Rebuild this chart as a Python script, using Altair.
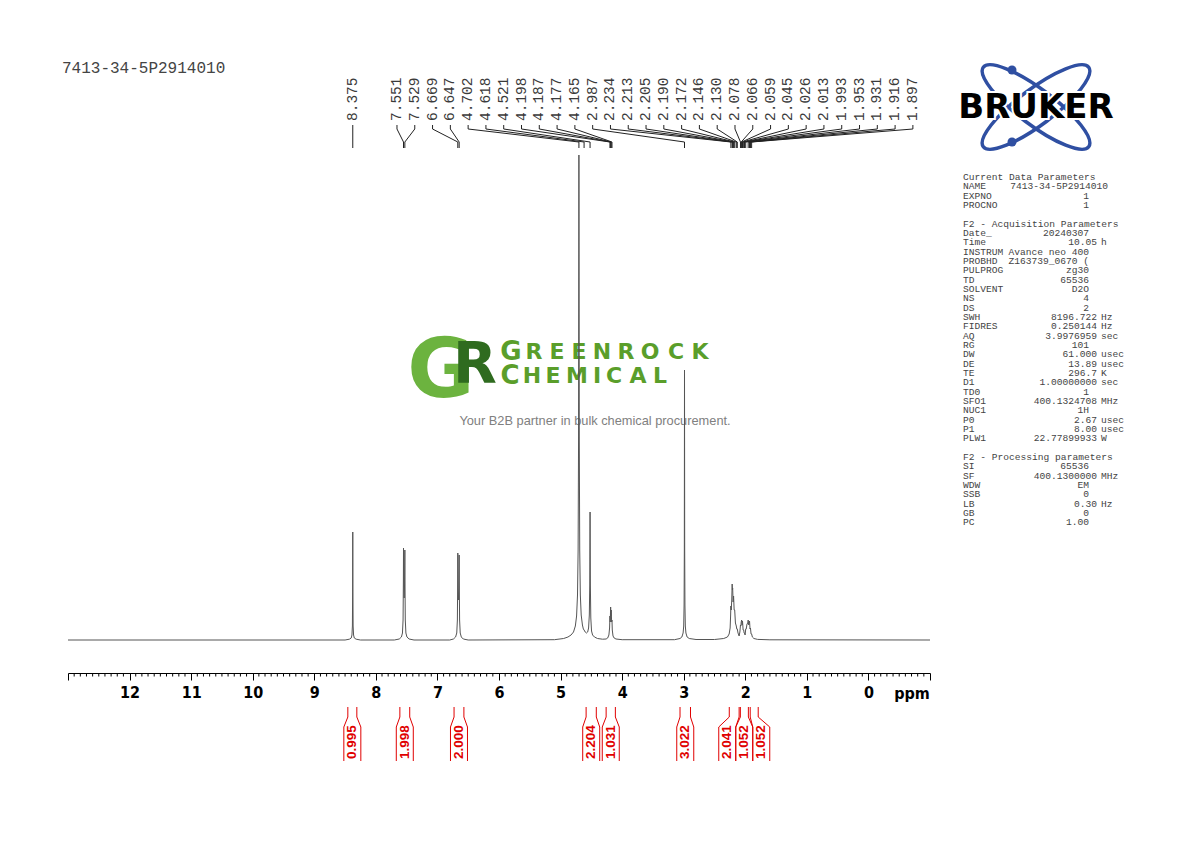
import altair as alt
import pandas as pd

# ---------------- data ----------------
TITLE = "7413-34-5P2914010"

# spectrum trace: chemical shift (ppm) and intensity (arbitrary units, HDO top = 485)
trace_ppm = [13.0, 8.50, 8.43, 8.40, 8.388, 8.381, 8.377, 8.375, 8.373, 8.369, 8.362, 8.35, 8.32, 8.25,
             7.70, 7.62, 7.585, 7.568, 7.558, 7.553, 7.551, 7.546, 7.540, 7.534, 7.529, 7.527, 7.522, 7.512, 7.495, 7.46, 7.38,
             6.80, 6.74, 6.705, 6.686, 6.676, 6.671, 6.669, 6.664, 6.658, 6.652, 6.647, 6.645, 6.640, 6.630, 6.612, 6.58, 6.50,
             5.10, 4.95, 4.88, 4.83, 4.79, 4.76, 4.74, 4.725, 4.715, 4.708, 4.702, 4.696, 4.689, 4.679, 4.665, 4.645, 4.630,
             4.618, 4.600, 4.580, 4.560, 4.545, 4.533, 4.526, 4.521, 4.516, 4.509, 4.497, 4.48, 4.45, 4.40, 4.32, 4.26,
             4.235, 4.215, 4.204, 4.198, 4.193, 4.187, 4.182, 4.177, 4.171, 4.165, 4.160, 4.148, 4.13, 4.10, 4.0,
             3.15, 3.06, 3.03, 3.01, 3.0, 2.994, 2.990, 2.987, 2.984, 2.980, 2.974, 2.964, 2.945, 2.91, 2.80, 2.50,
             2.35, 2.29, 2.262, 2.246, 2.238, 2.234, 2.228, 2.220, 2.213, 2.209, 2.205, 2.198, 2.190, 2.181, 2.172, 2.160,
             2.146, 2.138, 2.130, 2.118, 2.100, 2.088, 2.078, 2.072, 2.066, 2.059, 2.052, 2.045, 2.035, 2.026, 2.019, 2.013,
             2.003, 1.993, 1.985, 1.972, 1.960, 1.953, 1.944, 1.931, 1.923, 1.916, 1.906, 1.897, 1.885, 1.86, 1.80, 1.60, -1.0]
trace_int = [0, 0, 0.8, 2, 5, 14, 50, 108, 50, 14, 5, 2, 0.8, 0,
             0, 1, 3, 7, 20, 60, 92, 55, 42, 55, 90, 60, 20, 7, 3, 1, 0,
             0, 1, 3, 7, 20, 60, 87, 52, 40, 52, 85, 58, 20, 7, 3, 1, 0,
             0.3, 1.5, 3, 5, 8, 14, 24, 45, 90, 200, 485, 200, 90, 45, 25, 15, 11,
             10, 8, 7, 8, 12, 25, 55, 128, 55, 22, 9, 5, 3, 1.5, 0.8, 1,
             2, 5, 12, 24, 18, 33, 24, 30, 18, 20, 10, 4, 2, 1, 0.3,
             0.3, 1.5, 3, 7, 14, 35, 90, 270, 90, 35, 14, 7, 3, 1.5, 0.5, 0.5,
             1.5, 3, 6, 12, 25, 34, 30, 40, 56, 50, 52, 38, 44, 30, 30, 17,
             14, 11, 11, 7, 4, 8, 15, 14, 18, 20, 15, 19, 10, 10, 7, 7,
             5, 11, 11, 16, 17, 20, 15, 19, 11, 12, 6, 6, 3, 1.5, 0.6, 0.2, 0]

peak_labels = ["8.375", "7.551", "7.529", "6.669", "6.647", "4.702", "4.618", "4.521", "4.198", "4.187",
               "4.177", "4.165", "2.987", "2.234", "2.213", "2.205", "2.190", "2.172", "2.146", "2.130",
               "2.078", "2.066", "2.059", "2.045", "2.026", "2.013", "1.993", "1.953", "1.931", "1.916", "1.897"]

integral_values = ["0.995", "1.998", "2.000", "2.204", "1.031", "3.022", "2.041", "1.052", "1.052"]
integral_from = [8.455, 7.61, 6.73, 4.585, 4.26, 3.06, 2.26, 2.08, 1.92]
integral_to = [8.309, 7.45, 6.57, 4.42, 4.11, 2.89, 2.10, 1.95, 1.79]

param_headers = ["Current Data Parameters", "F2 - Acquisition Parameters", "F2 - Processing parameters"]
param_keys = ["NAME", "EXPNO", "PROCNO",
              "Date_", "Time", "INSTRUM", "PROBHD", "PULPROG", "TD", "SOLVENT", "NS", "DS", "SWH", "FIDRES",
              "AQ", "RG", "DW", "DE", "TE", "D1", "TD0", "SFO1", "NUC1", "P0", "P1", "PLW1",
              "SI", "SF", "WDW", "SSB", "LB", "GB", "PC"]
param_values = ["7413-34-5P2914010", "1", "1",
                "20240307", "10.05", "Avance neo 400", "Z163739_0670 (", "zg30", "65536", "D2O", "4", "2",
                "8196.722", "0.250144", "3.9976959", "101", "61.000", "13.89", "296.7", "1.00000000", "1",
                "400.1324708", "1H", "2.67", "8.00", "22.77899933",
                "65536", "400.1300000", "EM", "0", "0.30", "0", "1.00"]
param_units = ["", "", "",
               "", "h", "", "", "", "", "", "", "", "Hz", "Hz", "sec", "", "usec", "usec", "K", "sec", "",
               "MHz", "", "usec", "usec", "W",
               "", "MHz", "", "", "Hz", "", ""]

logo_top_word = "GREENROCK"
logo_bottom_word = "CHEMICAL"
logo_tagline = "Your B2B partner in bulk chemical procurement."
BRUKER = "BRUKER"

# ---------------- layout ----------------
W, H = 862, 518
X0_ABS, Y0_ABS = 68, 155            # plot origin on the page
PPX = W / 14.0                       # px per ppm
XS = alt.Scale(domain=[13, -1], nice=False, zero=False)
YS = alt.Scale(domain=[-33, 485], nice=False, zero=False)
NARROW = "Liberation Sans Narrow, DejaVu Sans Condensed, sans-serif"
MONO = "Liberation Mono, DejaVu Sans Mono, monospace"
RED = "#e00000"

XA = alt.Axis(values=list(range(-1, 14)),
              labelExpr="(datum.value > 12.5 || datum.value < -0.5) ? '' : datum.label",
              format="d", tickSize=7, tickColor="black", tickWidth=1, domainColor="black", domainWidth=1,
              labelFont=NARROW, labelFontWeight="bold", labelFontSize=16, labelColor="black",
              labelPadding=4, title=None, grid=False, labelFlush=False, labelOverlap=False)


def X(field):
    return alt.X(field, type="quantitative", scale=XS, axis=XA)


def spread(centers, gap):
    groups = [[c] for c in centers]

    def place(g):
        m = sum(g) / len(g)
        n = len(g)
        return [m + (n - 1) / 2 * gap - i * gap for i in range(n)]

    merged = True
    while merged:
        merged = False
        for k in range(len(groups) - 1):
            a, b = place(groups[k]), place(groups[k + 1])
            if a[-1] - b[0] < gap - 1e-9:
                groups[k] = groups[k] + groups[k + 1]
                del groups[k + 1]
                merged = True
                break
    out = []
    for g in groups:
        out += place(g)
    return out


# spectrum
spec_df = pd.DataFrame({"ppm": trace_ppm, "I": trace_int})
spectrum = alt.Chart(spec_df).mark_line(color="#555555", strokeWidth=1, interpolate="linear").encode(
    x=X("ppm"), y=alt.Y("I:Q", scale=YS, axis=None))

# minor ticks
minor = [round(-1 + 0.1 * i, 1) for i in range(141) if i % 10 != 0]
minor_df = pd.DataFrame({"t": minor})
minor_ticks = alt.Chart(minor_df).mark_rule(color="black", strokeWidth=1).encode(
    x=X("t"), y=alt.value(H), y2=alt.value(H + 3.5))

# ppm unit label
ppm_lbl = alt.Chart(pd.DataFrame({"s": ["ppm"]})).mark_text(
    font=NARROW, fontWeight="bold", fontSize=16, color="black", align="center", baseline="alphabetic").encode(
    x=alt.value(912 - X0_ABS), y=alt.value(699 - Y0_ABS), text="s:N")

# peak labels
peak_ppm = [float(s) for s in peak_labels]
slot_start, slot_step = 7.657, 17.79 / PPX
label_pos = [peak_ppm[0]] + [slot_start - i * slot_step for i in range(len(peak_ppm) - 1)]
lab_df = pd.DataFrame({"label": peak_labels, "lx": label_pos, "px": peak_ppm})
LC = "#222222"
lab_v1 = alt.Chart(lab_df).mark_rule(color=LC, strokeWidth=1).encode(
    x=X("lx"), y=alt.value(125 - Y0_ABS), y2=alt.value(129 - Y0_ABS))
lab_d = alt.Chart(lab_df).mark_rule(color=LC, strokeWidth=1).encode(
    x=X("lx"), x2="px:Q", y=alt.value(129 - Y0_ABS), y2=alt.value(142 - Y0_ABS))
lab_v2 = alt.Chart(lab_df).mark_rule(color=LC, strokeWidth=1).encode(
    x=X("px"), y=alt.value(142 - Y0_ABS), y2=alt.value(148 - Y0_ABS))
lab_txt = alt.Chart(lab_df).mark_text(angle=270, align="left", baseline="middle", font=MONO,
                                      fontSize=14.5, color="#3a3a3a").encode(
    x=X("lx"), y=alt.value(121 - Y0_ABS), text="label:N")

# integrals
centers = [(a + b) / 2 for a, b in zip(integral_from, integral_to)]
tpos = spread(centers, 17.0 / PPX)
hw = 8.5 / PPX
int_df = pd.DataFrame({"val": integral_values, "t": tpos})
br_rows = []
for a, b, t in zip(integral_from, integral_to, tpos):
    br_rows.append({"lim": a, "side": t + hw})
    br_rows.append({"lim": b, "side": t - hw})
br_df = pd.DataFrame(br_rows)
int_top = alt.Chart(br_df).mark_rule(color=RED, strokeWidth=1).encode(
    x=X("lim"), y=alt.value(707 - Y0_ABS), y2=alt.value(717 - Y0_ABS))
int_flare = alt.Chart(br_df).mark_rule(color=RED, strokeWidth=1).encode(
    x=X("lim"), x2="side:Q", y=alt.value(717 - Y0_ABS), y2=alt.value(727 - Y0_ABS))
int_side = alt.Chart(br_df).mark_rule(color=RED, strokeWidth=1).encode(
    x=X("side"), y=alt.value(727 - Y0_ABS), y2=alt.value(761 - Y0_ABS))
int_txt = alt.Chart(int_df).mark_text(angle=270, align="left", baseline="middle",
                                      font="Liberation Sans, Arial, sans-serif", fontWeight="bold",
                                      fontSize=13.5, color=RED).encode(
    x=X("t"), y=alt.value(759 - Y0_ABS), text="val:N")

# title
title_l = alt.Chart(pd.DataFrame({"s": [TITLE]})).mark_text(
    font=MONO, fontSize=16, color="#444444", align="left", baseline="middle").encode(
    x=alt.value(62 - X0_ABS), y=alt.value(68 - Y0_ABS), text="s:N")

# parameter block
LINE = 9.33
rows = []
hdr_rows = [0, 5, 30]
for h, r in zip(param_headers, hdr_rows):
    rows.append({"key": h, "val": "", "unit": "", "r": r})
key_rows = [1, 2, 3] + list(range(6, 29)) + list(range(31, 38))
for k, v, u, r in zip(param_keys, param_values, param_units, key_rows):
    rows.append({"key": k, "val": v, "unit": u, "r": r})
par_df = pd.DataFrame(rows)
par_df["py"] = 177 - Y0_ABS + par_df["r"] * LINE
par_df["vx"] = [(1108 if k == "NAME" else (1097 if u else 1089)) - X0_ABS
                for k, u in zip(par_df["key"], par_df["unit"])]
PCOL = "#444444"
par_key = alt.Chart(par_df).mark_text(font=MONO, fontSize=9.6, color=PCOL, align="left", baseline="middle").encode(
    x=alt.value(963 - X0_ABS), y=alt.Y("py:Q", scale=None), text="key:N")
par_val = alt.Chart(par_df).mark_text(font=MONO, fontSize=9.6, color=PCOL, align="right", baseline="middle").encode(
    x=alt.X("vx:Q", scale=None), y=alt.Y("py:Q", scale=None), text="val:N")
par_unit = alt.Chart(par_df).mark_text(font=MONO, fontSize=9.6, color=PCOL, align="left", baseline="middle").encode(
    x=alt.value(1101 - X0_ABS), y=alt.Y("py:Q", scale=None), text="unit:N")

# Bruker logo
one = pd.DataFrame({"s": [BRUKER]})
ELL = "M -1 0 A 1 0.27 0 1 0 1 0 A 1 0.27 0 1 0 -1 0 Z"
BLUE = "#2f4fa2"
ell1 = alt.Chart(one).mark_point(shape=ELL, filled=False, stroke=BLUE, strokeWidth=3.5, size=132 * 132,
                                 angle=37, opacity=1).encode(x=alt.value(1036 - X0_ABS), y=alt.value(107 - Y0_ABS))
ell2 = alt.Chart(one).mark_point(shape=ELL, filled=False, stroke=BLUE, strokeWidth=3.5, size=132 * 132,
                                 angle=143, opacity=1).encode(x=alt.value(1036 - X0_ABS), y=alt.value(107 - Y0_ABS))
dots_df = pd.DataFrame({"d": [0, 1]})
dots = alt.Chart(dots_df).mark_circle(color=BLUE, size=81, opacity=1).encode(
    x=alt.value(1012 - X0_ABS),
    y=alt.Y("dy:Q", scale=None)).transform_calculate(dy=f"datum.d == 0 ? {70 - Y0_ABS} : {142 - Y0_ABS}")
bru_halo = alt.Chart(one).mark_text(font="DejaVu Sans", fontWeight="bold", fontSize=34, color="white",
                                    stroke="white", strokeWidth=4, align="center", baseline="middle").encode(
    x=alt.value(1036 - X0_ABS), y=alt.value(108 - Y0_ABS), text="s:N")
bru_txt = alt.Chart(one).mark_text(font="DejaVu Sans", fontWeight="bold", fontSize=34, color="black",
                                   align="center", baseline="middle").encode(
    x=alt.value(1036 - X0_ABS), y=alt.value(108 - Y0_ABS), text="s:N")

# GreenRock watermark
LGREEN, DGREEN, TGREEN = "#6cb33f", "#2f6b1f", "#5a9e2a"
gr_df = pd.DataFrame({"s": ["G", "R"], "gx": [441 - X0_ABS, 475 - X0_ABS], "gy": [372 - Y0_ABS, 366 - Y0_ABS],
                      "c": [LGREEN, DGREEN], "fs": [82, 57]})
gr = alt.Chart(gr_df).mark_text(font="DejaVu Sans", fontWeight="bold", align="center", baseline="middle").encode(
    x=alt.X("gx:Q", scale=None), y=alt.Y("gy:Q", scale=None), text="s:N",
    color=alt.Color("c:N", scale=None), size=alt.Size("fs:Q", scale=None))
top_cx = [511, 534, 557, 579, 602, 626, 650, 676, 700]
bot_cx = [510, 532, 553, 577, 597, 614, 638, 660]
letters = []
for i, (ch, cx) in enumerate(zip(logo_top_word, top_cx)):
    letters.append({"s": ch, "lx": cx - X0_ABS, "ly": 352 - Y0_ABS, "fs": 26 if i == 0 else 22})
for i, (ch, cx) in enumerate(zip(logo_bottom_word, bot_cx)):
    letters.append({"s": ch, "lx": cx - X0_ABS, "ly": 376 - Y0_ABS, "fs": 26 if i == 0 else 22})
let_df = pd.DataFrame(letters)
words = alt.Chart(let_df).mark_text(font="DejaVu Sans", fontWeight="bold", color=TGREEN,
                                    align="center", baseline="middle").encode(
    x=alt.X("lx:Q", scale=None), y=alt.Y("ly:Q", scale=None), text="s:N", size=alt.Size("fs:Q", scale=None))
tag = alt.Chart(pd.DataFrame({"s": [logo_tagline]})).mark_text(
    font="Liberation Sans, Arial, sans-serif", fontSize=12.8, color="#808080", align="center", baseline="middle").encode(
    x=alt.value(595 - X0_ABS), y=alt.value(421 - Y0_ABS), text="s:N")

chart = alt.layer(
    gr, words, tag,
    spectrum, minor_ticks, ppm_lbl,
    lab_v1, lab_d, lab_v2, lab_txt,
    int_top, int_flare, int_side, int_txt,
    title_l, par_key, par_val, par_unit,
    ell1, ell2, dots, bru_halo, bru_txt,
).properties(
    width=W, height=H,
    autosize=alt.AutoSizeParams(type="none"),
    padding={"left": 60, "top": 147, "right": 252, "bottom": 161},
    background="white",
).configure_view(stroke=None)

chart.save("out.html", embed_options={"renderer": "svg", "actions": False})
